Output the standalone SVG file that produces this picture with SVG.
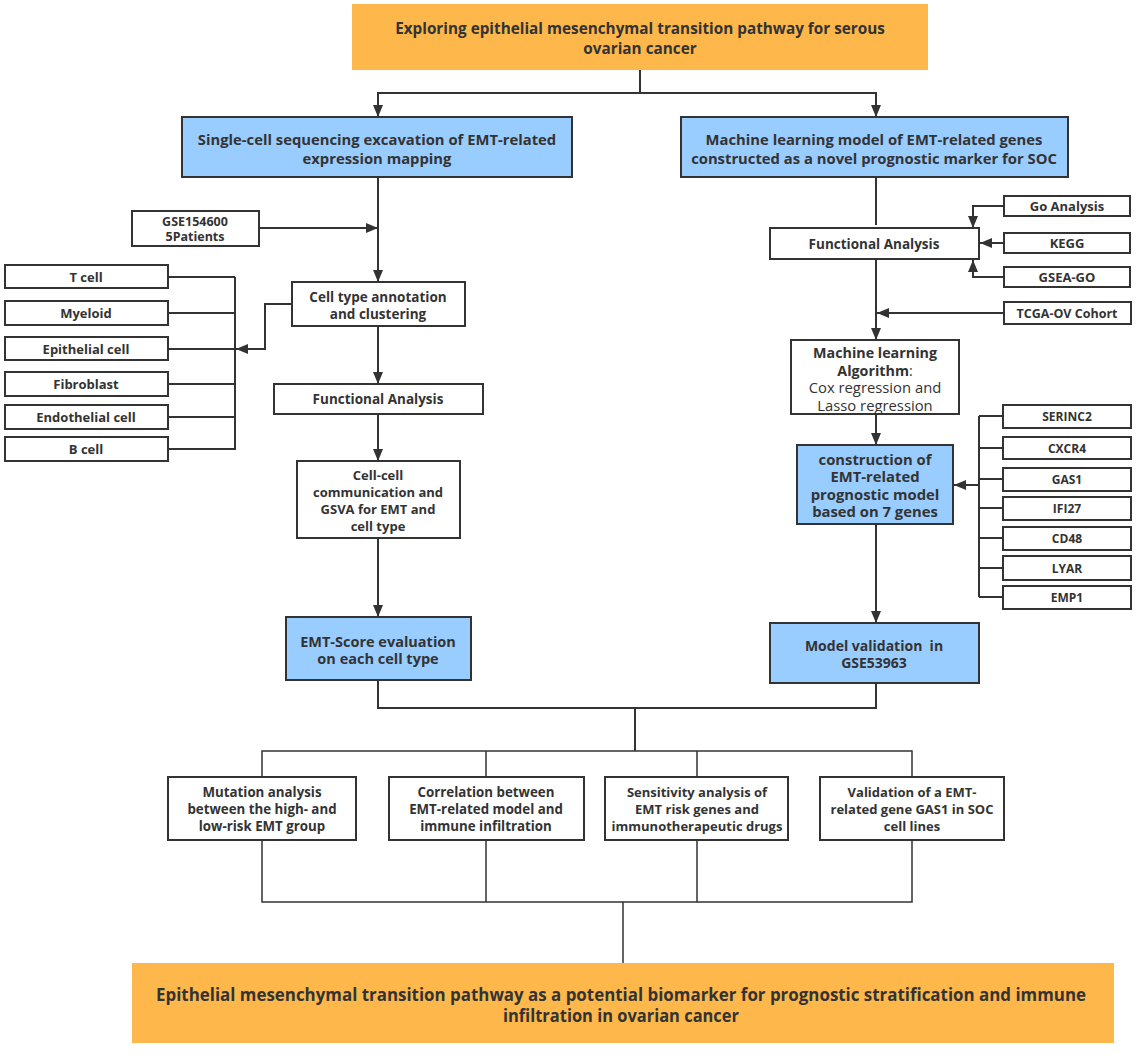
<svg xmlns="http://www.w3.org/2000/svg" width="1136" height="1056" viewBox="0 0 1136 1056">
<style>
.t{font-family:"Open Sans","Noto Sans","Liberation Sans",sans-serif;font-weight:bold;fill:#333;text-anchor:middle;dominant-baseline:central}
.n{font-weight:normal}
.box{fill:#fff;stroke:#333;stroke-width:2}
.blue{fill:#99ccff;stroke:#333;stroke-width:2}
.org{fill:#fdb74b;stroke:none}
.c{fill:none;stroke:#333;stroke-width:2}
.c1{fill:none;stroke:#333;stroke-width:1.5}
</style>
<defs>
<marker id="a" markerUnits="userSpaceOnUse" markerWidth="12" markerHeight="10" refX="12" refY="5" orient="auto">
<path d="M0,0 L12,5 L0,10 z" fill="#333"/>
</marker>
</defs>
<rect width="1136" height="1056" fill="#fff"/>
<g id="connectors">
<path class="c" d="M640,70 V93 H378 V117" marker-end="url(#a)"/>
<path class="c" d="M640,93 H876 V117" marker-end="url(#a)"/>
<path class="c" d="M378,177 V282" marker-end="url(#a)"/>
<path class="c" d="M259,228 H378" marker-end="url(#a)"/>
<path class="c" d="M292,304 H265 V349 H236" marker-end="url(#a)"/>
<path class="c" d="M235,277 V450 M168,277 H235 M168,313 H235 M168,349 H235 M168,384 H235 M168,417 H235 M168,449 H235"/>
<path class="c" d="M378,326 V384" marker-end="url(#a)"/>
<path class="c" d="M378,414 V461" marker-end="url(#a)"/>
<path class="c" d="M378,538 V617" marker-end="url(#a)"/>
<path class="c" d="M876,177 V225"/>
<path class="c" d="M1004,206 H973 V228" marker-end="url(#a)"/>
<path class="c" d="M1004,243 H980" marker-end="url(#a)"/>
<path class="c" d="M1004,277 H973 V260" marker-end="url(#a)"/>
<path class="c" d="M876,259 V340" marker-end="url(#a)"/>
<path class="c" d="M1004,313 H877" marker-end="url(#a)"/>
<path class="c" d="M876,414 V445" marker-end="url(#a)"/>
<path class="c" d="M876,524 V623" marker-end="url(#a)"/>
<path class="c" d="M979,416 V597 M979,416 H1003 M979,448 H1003 M979,479 H1003 M979,508 H1003 M979,538 H1003 M979,568 H1003 M979,597 H1003"/>
<path class="c" d="M979,485 H954" marker-end="url(#a)"/>
<path class="c" d="M378,680 V708 H876 V683 M635,708 V751"/>
<path class="c1" d="M262,777 V751 H912 V777 M486,751 V777 M697,751 V777"/>
<path class="c1" d="M262,840 V902 H912 V840 M486,840 V902 M697,840 V902 M623,902 V963"/>
</g>
<g id="title"><rect class="org" x="352" y="4" width="576" height="66"/>
<text class="t" x="640" y="28" font-size="15.3">Exploring epithelial mesenchymal transition pathway for serous</text>
<text class="t" x="640" y="48" font-size="15.3">ovarian cancer</text></g>
<g id="sc"><rect class="blue" x="182" y="117" width="390" height="60"/>
<text class="t" x="377" y="139" font-size="14.8">Single-cell sequencing excavation of EMT-related</text>
<text class="t" x="377" y="158" font-size="14.8">expression mapping</text></g>
<g id="ml"><rect class="blue" x="681" y="117" width="387" height="60"/>
<text class="t" x="874" y="139" font-size="14.8">Machine learning model of EMT-related genes</text>
<text class="t" x="874" y="158" font-size="14.8">constructed as a novel prognostic marker for SOC</text></g>
<g id="gse"><rect class="box" x="132" y="211" width="127" height="35"/>
<text class="t" x="195" y="221" font-size="12.5">GSE154600</text>
<text class="t" x="195" y="236" font-size="12.5">5Patients</text></g>
<g id="tcell"><rect class="box" x="5" y="265" width="163" height="23"/><text class="t" x="86" y="277" font-size="13">T cell</text></g>
<g id="myeloid"><rect class="box" x="5" y="301" width="163" height="24"/><text class="t" x="86" y="313" font-size="13">Myeloid</text></g>
<g id="epi"><rect class="box" x="5" y="337" width="163" height="23"/><text class="t" x="86" y="349" font-size="13">Epithelial cell</text></g>
<g id="fib"><rect class="box" x="5" y="372" width="163" height="24"/><text class="t" x="86" y="384" font-size="13">Fibroblast</text></g>
<g id="endo"><rect class="box" x="5" y="405" width="163" height="24"/><text class="t" x="86" y="417" font-size="13">Endothelial cell</text></g>
<g id="bcell"><rect class="box" x="5" y="437" width="163" height="24"/><text class="t" x="86" y="449" font-size="13">B cell</text></g>
<g id="cta"><rect class="box" x="292" y="282" width="173" height="44"/>
<text class="t" x="378" y="297" font-size="13.5">Cell type annotation</text>
<text class="t" x="378" y="314" font-size="13.5">and clustering</text></g>
<g id="fa1"><rect class="box" x="274" y="384" width="209" height="30"/>
<text class="t" x="378" y="399" font-size="13.5">Functional Analysis</text></g>
<g id="ccc"><rect class="box" x="297" y="461" width="163" height="77"/>
<text class="t" x="378" y="475" font-size="13">Cell-cell</text>
<text class="t" x="378" y="492" font-size="13">communication and</text>
<text class="t" x="378" y="509" font-size="13">GSVA for EMT and</text>
<text class="t" x="378" y="526" font-size="13">cell type</text></g>
<g id="emtscore"><rect class="blue" x="286" y="617" width="185" height="63"/>
<text class="t" x="378" y="641" font-size="14.5">EMT-Score evaluation</text>
<text class="t" x="378" y="658" font-size="14.5">on each cell type</text></g>
<g id="fa2"><rect class="box" x="770" y="228" width="209" height="31"/>
<text class="t" x="874" y="244" font-size="13.5">Functional Analysis</text></g>
<g id="go"><rect class="box" x="1004" y="196" width="126" height="20"/><text class="t" x="1067" y="206" font-size="13">Go Analysis</text></g>
<g id="kegg"><rect class="box" x="1004" y="233" width="126" height="20"/><text class="t" x="1067" y="243" font-size="13">KEGG</text></g>
<g id="gsea"><rect class="box" x="1004" y="267" width="126" height="20"/><text class="t" x="1067" y="277" font-size="13">GSEA-GO</text></g>
<g id="tcga"><rect class="box" x="1004" y="302" width="127" height="22"/><text class="t" x="1067" y="313" font-size="12.5">TCGA-OV Cohort</text></g>
<g id="mla"><rect class="box" x="791" y="340" width="168" height="74"/>
<text class="t" x="875" y="352" font-size="14.3">Machine learning</text>
<text class="t" x="875" y="370" font-size="14.3">Algorithm<tspan class="n">:</tspan></text>
<text class="t n" x="875" y="387" font-size="14.8">Cox regression and</text>
<text class="t n" x="875" y="405" font-size="14.8">Lasso regression</text></g>
<g id="cons"><rect class="blue" x="797" y="445" width="156" height="79" stroke-width="2.5"/>
<text class="t" x="875" y="459" font-size="14.8">construction of</text>
<text class="t" x="875" y="476" font-size="14.8">EMT-related</text>
<text class="t" x="875" y="494" font-size="14.8">prognostic model</text>
<text class="t" x="875" y="511" font-size="14.8">based on 7 genes</text></g>
<g id="serinc2"><rect class="box" x="1003" y="405" width="128" height="23"/><text class="t" x="1067" y="416" font-size="12">SERINC2</text></g>
<g id="cxcr4"><rect class="box" x="1003" y="437" width="128" height="22"/><text class="t" x="1067" y="448" font-size="12">CXCR4</text></g>
<g id="gas1"><rect class="box" x="1003" y="468" width="128" height="23"/><text class="t" x="1067" y="479" font-size="12">GAS1</text></g>
<g id="ifi27"><rect class="box" x="1003" y="497" width="128" height="23"/><text class="t" x="1067" y="508" font-size="12">IFI27</text></g>
<g id="cd48"><rect class="box" x="1003" y="527" width="128" height="23"/><text class="t" x="1067" y="538" font-size="12">CD48</text></g>
<g id="lyar"><rect class="box" x="1003" y="556" width="128" height="24"/><text class="t" x="1067" y="568" font-size="12">LYAR</text></g>
<g id="emp1"><rect class="box" x="1003" y="586" width="128" height="23"/><text class="t" x="1067" y="597" font-size="12">EMP1</text></g>
<g id="mv"><rect class="blue" x="770" y="623" width="209" height="60"/>
<text class="t" x="874" y="645" font-size="14" xml:space="preserve">Model validation  in</text>
<text class="t" x="874" y="662" font-size="14">GSE53963</text></g>
<g id="b1"><rect class="box" x="168" y="777" width="188" height="63"/>
<text class="t" x="262" y="792" font-size="13.3">Mutation analysis</text>
<text class="t" x="262" y="809" font-size="13.3">between the high- and</text>
<text class="t" x="262" y="826" font-size="13.3">low-risk EMT group</text></g>
<g id="b2"><rect class="box" x="389" y="777" width="195" height="63"/>
<text class="t" x="486" y="792" font-size="13.3">Correlation between</text>
<text class="t" x="486" y="809" font-size="13.3">EMT-related model and</text>
<text class="t" x="486" y="826" font-size="13.3">immune infiltration</text></g>
<g id="b3"><rect class="box" x="605" y="777" width="183" height="63"/>
<text class="t" x="697" y="792" font-size="13">Sensitivity analysis of</text>
<text class="t" x="697" y="809" font-size="13">EMT risk genes and</text>
<text class="t" x="697" y="826" font-size="13">immunotherapeutic drugs</text></g>
<g id="b4"><rect class="box" x="820" y="777" width="184" height="63"/>
<text class="t" x="912" y="792" font-size="13">Validation of a EMT-</text>
<text class="t" x="912" y="809" font-size="13">related gene GAS1 in SOC</text>
<text class="t" x="912" y="826" font-size="13">cell lines</text></g>
<g id="final"><rect class="org" x="132" y="963" width="982" height="80"/>
<text class="t" x="621" y="994" font-size="17" textLength="930" lengthAdjust="spacingAndGlyphs">Epithelial mesenchymal transition pathway as a potential biomarker for prognostic stratification and immune</text>
<text class="t" x="621" y="1015" font-size="17" textLength="236" lengthAdjust="spacingAndGlyphs">infiltration in ovarian cancer</text></g>
</svg>
